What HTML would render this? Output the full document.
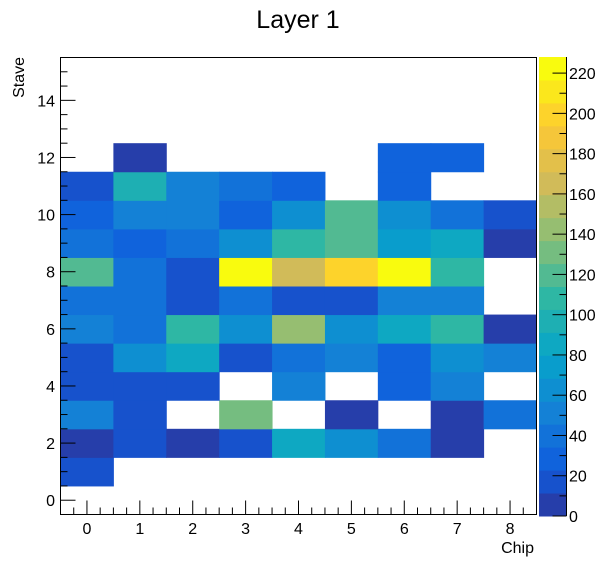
<!DOCTYPE html>
<html><head><meta charset="utf-8"><style>
body{margin:0;background:#fff;}
svg text{font-family:"Liberation Sans",sans-serif;}
</style></head><body>
<svg id="c" width="596" height="572" xmlns="http://www.w3.org/2000/svg">
<text x="298" y="28" font-size="25" text-anchor="middle">Layer 1</text>
<text x="534" y="553" font-size="16" text-anchor="end">Chip</text>
<text x="0" y="0" font-size="16" text-anchor="end" transform="translate(24,57) rotate(-90)">Stave</text>
<g id="cells"></g><g id="axes"></g><g id="cbar"></g>
</svg>
<script>
// rows: stave 0..12, columns: chip 0..8; null = empty
const chips=[0,1,2,3,4,5,6,7,8];
const staves=[0,1,2,3,4,5,6,7,8,9,10,11,12];
const values=[
[null,null,null,null,null,null,null,null,null],
[22,null,null,null,null,null,null,null,null],
[8,22,8,22,85,65,40,8,null],
[55,20,null,130,null,8,null,8,35],
[18,18,18,null,50,null,30,55,null],
[20,65,80,20,40,55,30,65,55],
[55,40,105,60,140,65,85,105,8],
[35,35,18,40,20,20,55,50,null],
[120,40,20,225,170,195,228,105,null],
[40,30,40,65,110,120,75,85,8],
[28,55,55,30,60,120,65,40,20],
[20,95,50,40,30,null,30,null,null],
[null,8,null,null,null,null,30,30,null]];
const xTicks=[0,1,2,3,4,5,6,7,8];
const yTicks=[0,2,4,6,8,10,12,14];
const zTicks=[0,20,40,60,80,100,120,140,160,180,200,220];
const zMax=228, nCont=20;

const NS="http://www.w3.org/2000/svg";
const X0=60.5,X1=536.5,Y0=514.5,Y1=57.5;
const sx=v=>X0+(v+0.5)/9*(X1-X0);
const sy=v=>Y0-(v+0.5)/16*(Y0-Y1);
const sz=v=>516-v*(516-57)/zMax;
const st=[0,.125,.25,.375,.5,.625,.75,.875,1];
const R=[0.2082,0.0592,0.0780,0.0232,0.1802,0.5301,0.8186,0.9956,0.9764];
const G=[0.1664,0.3599,0.5041,0.6419,0.7178,0.7492,0.7328,0.7862,0.9832];
const B=[0.5293,0.8684,0.8385,0.7914,0.6425,0.4662,0.3499,0.1968,0.0539];
function bird(f){let i=0;while(i<7&&f>st[i+1])i++;const t=(f-st[i])/(st[i+1]-st[i]);
const c=a=>Math.round(255*(a[i]+(a[i+1]-a[i])*t));return `rgb(${c(R)},${c(G)},${c(B)})`;}
function bandColor(b){return bird(Math.min(1,(b+1)/nCont));}
function colorFor(v){let b=Math.floor(v/(zMax/nCont));if(b>nCont-1)b=nCont-1;if(b<0)b=0;return bandColor(b);}
function mk(tag,at,parent){const e=document.createElementNS(NS,tag);for(const k in at)e.setAttribute(k,at[k]);parent.appendChild(e);return e;}

const cells=document.getElementById('cells');
staves.forEach((s,ri)=>chips.forEach((c,ci)=>{const v=values[ri][ci];if(v==null)return;
const r=mk('rect',{x:sx(c-0.5),y:sy(s+0.5),width:sx(c+0.5)-sx(c-0.5)+0.5,height:sy(s-0.5)-sy(s+0.5)+0.5,fill:colorFor(v)},cells);

}));

const ax=document.getElementById('axes');
const fr=mk('rect',{x:X0,y:Y1,width:X1-X0,height:Y0-Y1,fill:'none',stroke:'#000','stroke-width':1},ax);


for(let v=-0.5;v<=8.5001;v+=0.25){const maj=Math.abs(v-Math.round(v))<1e-6;
mk('line',{x1:sx(v),x2:sx(v),y1:Y0,y2:Y0-(maj?14:7),stroke:'#000'},ax);}
xTicks.forEach(t=>{const e=mk('text',{x:sx(t),y:534,'font-size':16,'text-anchor':'middle'},ax);e.textContent=t;

});
for(let v=-0.5;v<=15.5001;v+=0.5){const maj=Math.abs(v/2-Math.round(v/2))<1e-6;
mk('line',{x1:X0,x2:X0+(maj?15:7),y1:sy(v),y2:sy(v),stroke:'#000'},ax);}
yTicks.forEach(t=>{const e=mk('text',{x:55,y:sy(t)+6,'font-size':16,'text-anchor':'end'},ax);e.textContent=t;

});

const cb=document.getElementById('cbar');
for(let i=0;i<nCont;i++){const lo=i*zMax/nCont,hi=(i+1)*zMax/nCont;
const r=mk('rect',{x:539,y:sz(hi),width:27,height:sz(lo)-sz(hi)+0.5,fill:bandColor(i)},cb);

}
mk('line',{x1:566.5,x2:566.5,y1:57,y2:516,stroke:'#000'},cb);
for(let v=0;v<=zMax;v+=5){const maj=v%20==0;mk('line',{x1:566.5,x2:566.5-(maj?14:(v%10==0?7:0)),y1:sz(v),y2:sz(v),stroke:'#000'},cb);}
zTicks.forEach(t=>{const e=mk('text',{x:569,y:sz(t)+6,'font-size':16},cb);e.textContent=t;

});
</script>
</body></html>
